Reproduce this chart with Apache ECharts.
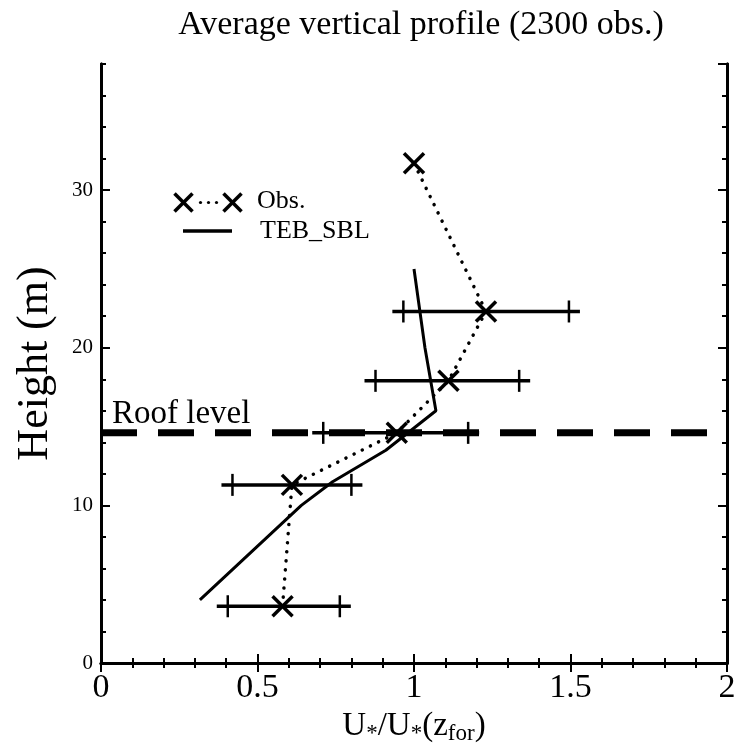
<!DOCTYPE html>
<html>
<head>
<meta charset="utf-8">
<script src="https://cdn.jsdelivr.net/npm/echarts@6/dist/echarts.min.js"></script>
<style>
  html, body { margin: 0; padding: 0; background: #fff; }
  #chart { width: 742px; height: 750px; }
</style>
</head>
<body>
<div id="chart"></div>
<script>
// observations: mean ratio, height and spread
var obsHeight = [3.6, 11.3, 14.6, 17.9, 22.3, 31.7];
var obsRatio = [0.58, 0.61, 0.945, 1.11, 1.23, 1.0];
var obsLow = [0.405, 0.42, 0.71, 0.877, 0.966, null];
var obsHigh = [0.763, 0.80, 1.173, 1.336, 1.495, null];

// TEB_SBL simulated profile
var tebHeight = [4, 10, 11.5, 13.5, 16, 20, 25];
var tebRatio = [0.316, 0.64, 0.74, 0.91, 1.07, 1.035, 1.0];

var roofHeight = 14.6;
var roofRange = [0, 1.94];

var FONT = 'Liberation Serif';

var chart = echarts.init(document.getElementById('chart'));

function cross(x, y, r, w) {
  return [
    { type: 'line', shape: { x1: x - r, y1: y - r, x2: x + r, y2: y + r }, style: { stroke: '#000', lineWidth: w } },
    { type: 'line', shape: { x1: x - r, y1: y + r, x2: x + r, y2: y - r }, style: { stroke: '#000', lineWidth: w } }
  ];
}

function renderObs(params, api) {
  var i = params.dataIndex;
  var c = api.coord([obsRatio[i], obsHeight[i]]);
  var kids = [];
  if (obsLow[i] != null) {
    var a = api.coord([obsLow[i], obsHeight[i]]);
    var b = api.coord([obsHigh[i], obsHeight[i]]);
    kids.push({ type: 'line', shape: { x1: a[0] - 11, y1: a[1], x2: b[0] + 11, y2: b[1] }, style: { stroke: '#000', lineWidth: 3.5 } });
    kids.push({ type: 'line', shape: { x1: a[0], y1: a[1] - 11, x2: a[0], y2: a[1] + 11 }, style: { stroke: '#000', lineWidth: 2.5 } });
    kids.push({ type: 'line', shape: { x1: b[0], y1: b[1] - 11, x2: b[0], y2: b[1] + 11 }, style: { stroke: '#000', lineWidth: 2.5 } });
  }
  kids = kids.concat(cross(c[0], c[1], 10, 3.5));
  return { type: 'group', children: kids };
}

var tickAxis = function (pos, interval, len, extra) {
  return Object.assign({
    type: 'value', position: pos, min: 0, max: 38, interval: interval,
    axisLine: { show: true, lineStyle: { color: '#000', width: 3 } },
    axisTick: { show: true, inside: true, length: len, lineStyle: { color: '#000', width: 2 } },
    axisLabel: { show: false },
    splitLine: { show: false }
  }, extra || {});
};

chart.setOption({
  animation: false,
  title: {
    text: 'Average vertical profile (2300 obs.)',
    left: 416, top: 3, textAlign: 'center',
    textStyle: { fontFamily: FONT, fontSize: 34, fontWeight: 'normal', color: '#000' }
  },
  grid: { left: 101, right: 15, top: 64, bottom: 87, outerBoundsMode: 'none' },
  xAxis: [
    {
      type: 'value', position: 'bottom', min: 0, max: 2, interval: 0.5,
      name: 'U{s|*}/U{s|*}(z{s|for})', nameLocation: 'middle', nameGap: 40,
      nameTextStyle: {
        fontFamily: FONT, fontSize: 33, color: '#000',
        rich: { s: { fontFamily: FONT, fontSize: 23, color: '#000', padding: [16, 0, 0, 0] } }
      },
      axisLine: { show: true, lineStyle: { color: '#000', width: 3 } },
      axisTick: { show: true, inside: true, length: 9, lineStyle: { color: '#000', width: 2 } },
      minorTick: { show: true, splitNumber: 5, length: 5, lineStyle: { color: '#000', width: 2 } },
      axisLabel: { fontFamily: FONT, fontSize: 34, color: '#000', margin: 8 },
      splitLine: { show: false }
    },
    {
      type: 'value', position: 'top', min: 0, max: 2, interval: 0.5,
      axisLine: { show: true, lineStyle: { color: '#000', width: 3 } },
      axisTick: { show: true, inside: true, length: 9, lineStyle: { color: '#000', width: 2 } },
      minorTick: { show: true, splitNumber: 5, length: 5, lineStyle: { color: '#000', width: 2 } },
      axisLabel: { show: false },
      splitLine: { show: false }
    }
  ],
  yAxis: [
    tickAxis('left', 10, 9, {
      name: 'Height (m)', nameLocation: 'middle', nameGap: 44,
      nameTextStyle: { fontFamily: FONT, fontSize: 44, color: '#000' },
      axisLabel: { show: true, showMaxLabel: false, fontFamily: FONT, fontSize: 21, color: '#000', margin: 8 }
    }),
    tickAxis('left', 2, 5),
    tickAxis('right', 10, 9),
    tickAxis('right', 2, 5)
  ],
  graphic: [
    { type: 'text', left: 112, top: 398, style: { text: 'Roof level', fontFamily: FONT, fontSize: 33, fill: '#000' } },
    { type: 'group', left: 172, top: 191, children: cross(10, 10, 9, 3.5).concat(cross(59, 10, 9, 3.5)).concat([
      { type: 'circle', shape: { cx: 27, cy: 10, r: 1.6 }, style: { fill: '#000' } },
      { type: 'circle', shape: { cx: 35, cy: 10, r: 1.6 }, style: { fill: '#000' } },
      { type: 'circle', shape: { cx: 43, cy: 10, r: 1.6 }, style: { fill: '#000' } }
    ]) },
    { type: 'text', left: 257, top: 188, style: { text: 'Obs.', fontFamily: FONT, fontSize: 26, fill: '#000' } },
    { type: 'line', shape: { x1: 183, y1: 231, x2: 232, y2: 231 }, style: { stroke: '#000', lineWidth: 3.5 } },
    { type: 'text', left: 260, top: 218, style: { text: 'TEB_SBL', fontFamily: FONT, fontSize: 26, fill: '#000' } }
  ],
  series: [
    {
      name: 'Roof level', type: 'line', symbol: 'none',
      data: [[roofRange[0], roofHeight], [roofRange[1], roofHeight]],
      lineStyle: { color: '#000', width: 7, type: [36, 21] }
    },
    {
      name: 'TEB_SBL', type: 'line', symbol: 'none',
      data: tebRatio.map(function (v, i) { return [v, tebHeight[i]]; }),
      lineStyle: { color: '#000', width: 3 }
    },
    {
      name: 'Obs. line', type: 'line', symbol: 'none',
      data: obsRatio.map(function (v, i) { return [v, obsHeight[i]]; }),
      lineStyle: { color: '#000', width: 3.5, type: [0.1, 9], cap: 'round' }
    },
    {
      name: 'Obs.', type: 'custom', renderItem: renderObs,
      data: obsRatio.map(function (v, i) { return [v, obsHeight[i]]; }),
      z: 5
    }
  ]
});
</script>
</body>
</html>
